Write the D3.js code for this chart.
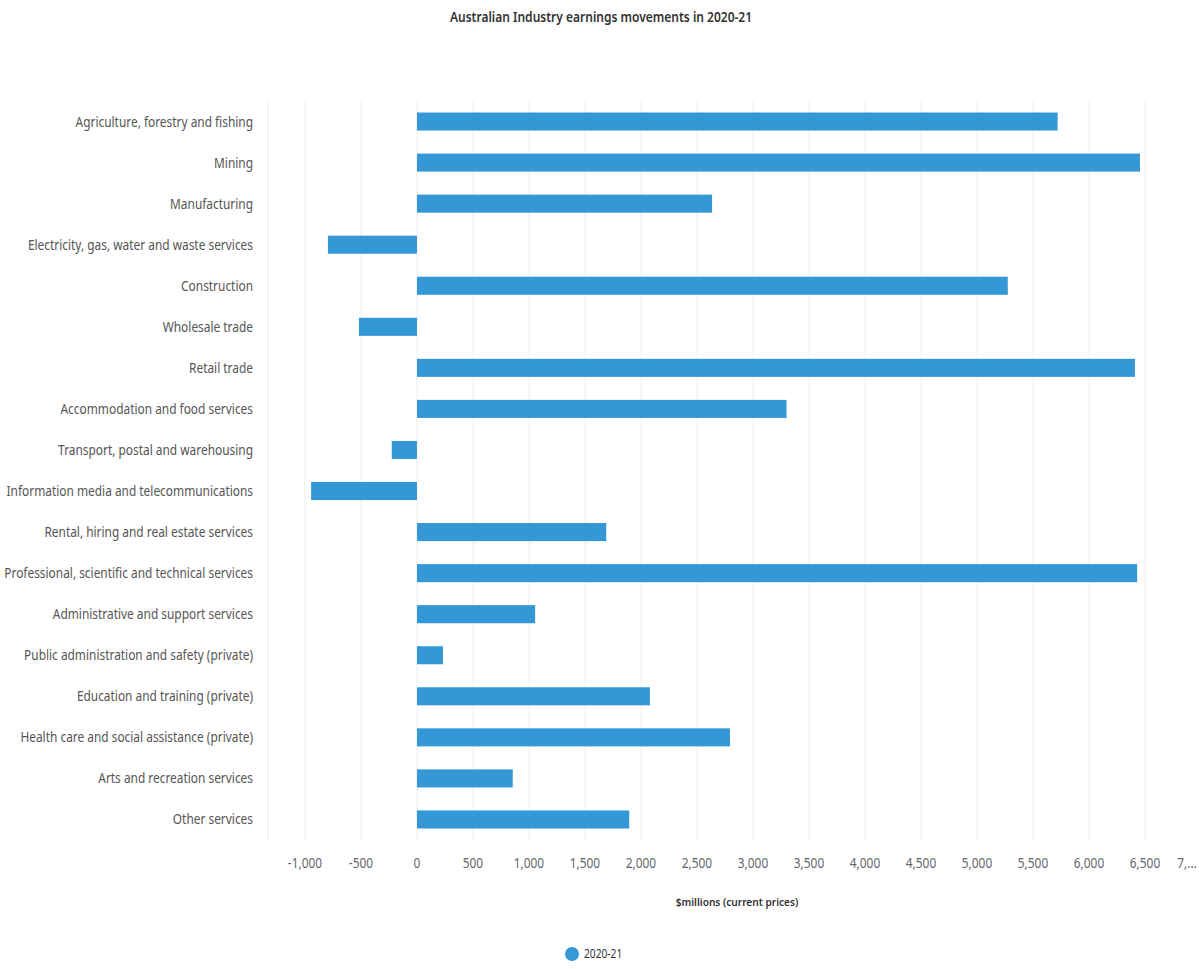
<!DOCTYPE html>
<html>
<head>
<meta charset="utf-8">
<script src="https://cdn.jsdelivr.net/npm/d3@7"></script>
<style>
  body { margin: 0; background: #fff; }
  text { font-family: "Noto Sans", "Open Sans", sans-serif; }
</style>
</head>
<body>
<div id="chart"></div>
<script>
// industries, top to bottom
var industries = [
  "Agriculture, forestry and fishing",
  "Mining",
  "Manufacturing",
  "Electricity, gas, water and waste services",
  "Construction",
  "Wholesale trade",
  "Retail trade",
  "Accommodation and food services",
  "Transport, postal and warehousing",
  "Information media and telecommunications",
  "Rental, hiring and real estate services",
  "Professional, scientific and technical services",
  "Administrative and support services",
  "Public administration and safety (private)",
  "Education and training (private)",
  "Health care and social assistance (private)",
  "Arts and recreation services",
  "Other services"
];
// earnings movement, $millions
var movements = [5720, 6455, 2635, -795, 5275, -518, 6410, 3300, -225, -945,
                 1690, 6430, 1055, 232, 2080, 2795, 855, 1895];
var tickValues = [-1000, -500, 0, 500, 1000, 1500, 2000, 2500, 3000, 3500,
                  4000, 4500, 5000, 5500, 6000, 6500, 7000];
var seriesName = "2020-21";

var W = 1199, H = 969;
var sx = 0.85; // condensed look of the original text

var svg = d3.select("#chart").append("svg")
  .attr("width", W)
  .attr("height", H);

var x = d3.scaleLinear().domain([-1330, 7000]).range([268, 1201]);
var y = d3.scaleBand().domain(industries).range([101, 840]).paddingInner(0.56).paddingOuter(0.28);

// title
svg.append("g")
  .attr("transform", "translate(601,22) scale(0.89,1)")
  .append("text")
  .attr("text-anchor", "middle")
  .style("font-size", "13.5px")
  .style("font-weight", "600")
  .style("fill", "#333")
  .text("Australian Industry earnings movements in 2020-21");

// vertical grid
svg.append("g").selectAll("line")
  .data(tickValues.concat([-1330]))
  .enter().append("line")
  .attr("x1", function(d) { return x(d); })
  .attr("x2", function(d) { return x(d); })
  .attr("y1", 101)
  .attr("y2", 840)
  .style("stroke", "#eeeeee")
  .style("stroke-width", 1);

// bars
svg.append("g").selectAll("rect")
  .data(movements)
  .enter().append("rect")
  .attr("x", function(d) { return x(Math.min(0, d)); })
  .attr("y", function(d, i) { return y(industries[i]); })
  .attr("width", function(d) { return Math.abs(x(d) - x(0)); })
  .attr("height", y.bandwidth())
  .style("fill", "#3598d6");

// category labels
svg.append("g").selectAll("g")
  .data(industries)
  .enter().append("g")
  .attr("transform", function(d) { return "translate(253," + (y(d) + y.bandwidth() / 2 + 5) + ") scale(" + sx + ",1)"; })
  .append("text")
  .attr("text-anchor", "end")
  .style("font-size", "14px")
  .style("fill", "#555")
  .text(function(d) { return d; });

// x tick labels
var fmt = d3.format(",");
svg.append("g").selectAll("g")
  .data(tickValues)
  .enter().append("g")
  .attr("transform", function(d) {
    var px = d == 7000 ? 1187 : x(d);
    return "translate(" + px + ",868) scale(" + sx + ",1)";
  })
  .append("text")
  .attr("text-anchor", "middle")
  .style("font-size", "14px")
  .style("fill", "#666")
  .text(function(d) { return d == 7000 ? "7,..." : fmt(d).replace("\u2212", "-"); });

// axis title
svg.append("g")
  .attr("transform", "translate(737,906) scale(0.88,1)")
  .append("text")
  .attr("text-anchor", "middle")
  .style("font-size", "11.5px")
  .style("font-weight", "600")
  .style("fill", "#333")
  .text("$millions (current prices)");

// legend
svg.append("circle")
  .attr("cx", 572)
  .attr("cy", 954)
  .attr("r", 7)
  .style("fill", "#3598d6");
svg.append("g")
  .attr("transform", "translate(584,958) scale(" + sx + ",1)")
  .append("text")
  .style("font-size", "12px")
  .style("fill", "#333")
  .text(seriesName);
</script>
</body>
</html>
